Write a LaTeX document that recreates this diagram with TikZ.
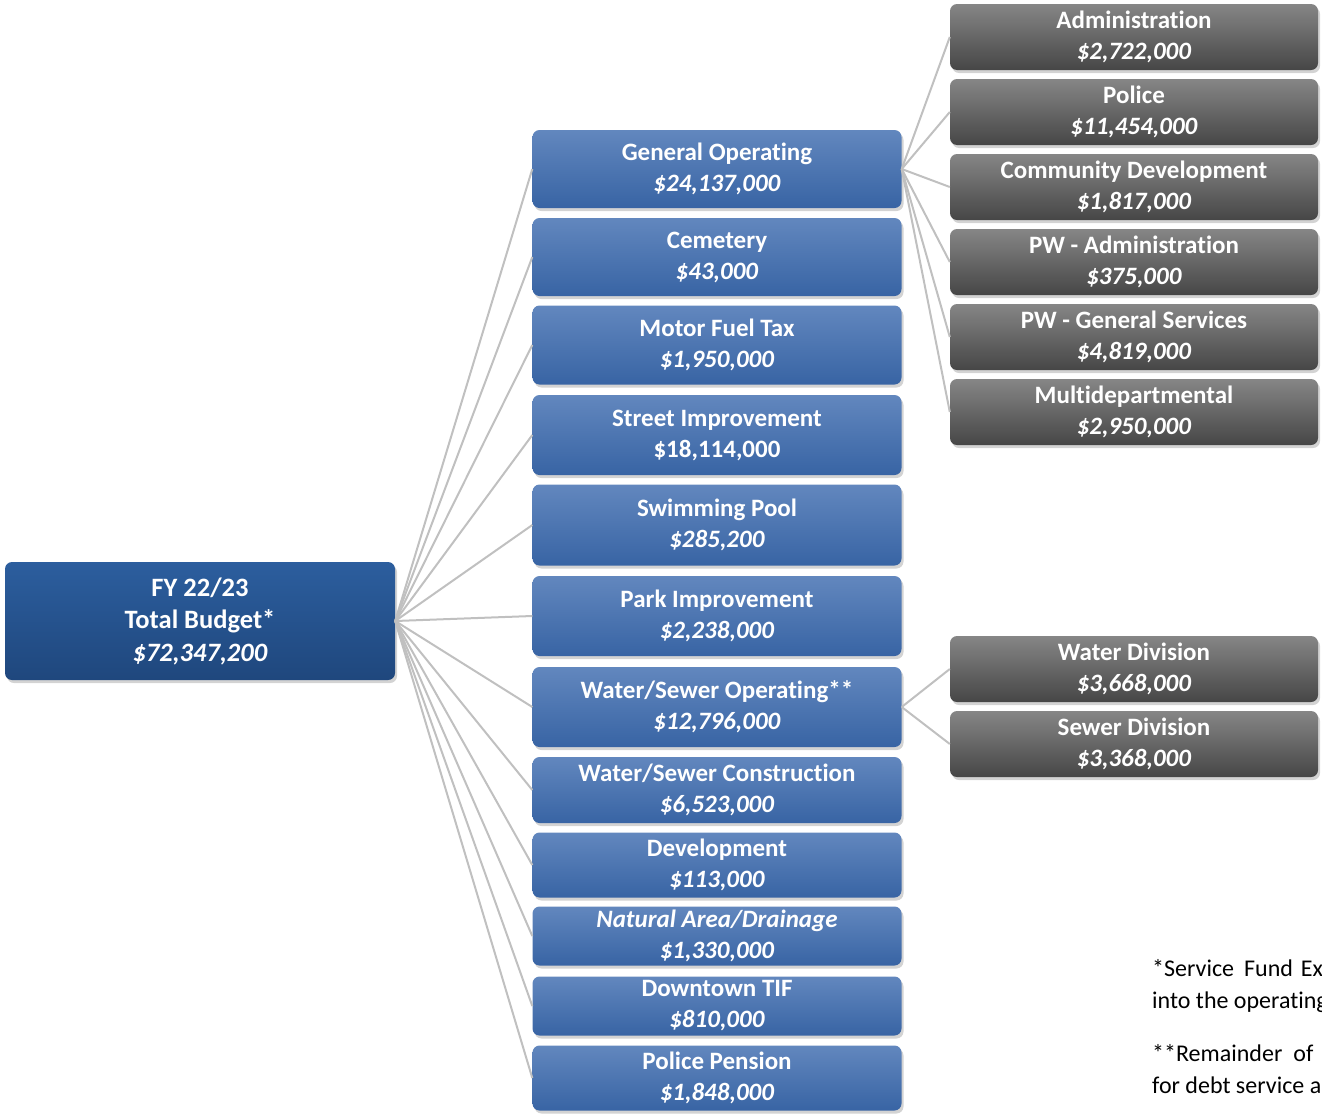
\documentclass[tikz,border=0pt]{standalone}
\usepackage{fontspec}
\setmainfont{Carlito}[Ligatures={NoCommon,NoContextual},Contextuals=NoAlternate,RawFeature={-liga;-clig}]
\usetikzlibrary{shadows}
\definecolor{fundtop}{RGB}{98,135,190}
\definecolor{fundbot}{RGB}{56,100,164}
\definecolor{roottop}{RGB}{44,94,158}
\definecolor{rootbot}{RGB}{31,71,125}
\definecolor{depttop}{RGB}{134,134,134}
\definecolor{deptbot}{RGB}{70,70,70}
\definecolor{linkgray}{RGB}{192,192,192}
\begin{document}
\begin{tikzpicture}[x=1pt,y=-1pt,
  fund node/.style={rounded corners=7pt,top color=fundtop,bottom color=fundbot,text=white,
    font=\bfseries\fontsize{25}{31}\selectfont,align=center,minimum width=369pt,
    execute at begin node={\rule{0pt}{23pt}},
    drop shadow={opacity=0.35,shadow xshift=2pt,shadow yshift=-3pt}},
  root node/.style={fund node,top color=roottop,bottom color=rootbot,minimum width=390pt,
    minimum height=118pt,font=\bfseries\fontsize{26.5}{32.5}\selectfont},
  dept node/.style={fund node,top color=depttop,bottom color=deptbot,minimum width=368pt,minimum height=66pt},
  note/.style={anchor=base west,inner sep=0pt,font=\fontsize{24}{32}\selectfont}]

  \useasboundingbox (0,0) rectangle (1322,1114);

  \node[root node] (0) at (200,621){FY 22/23\\Total Budget*\\\textit{\$72,347,200}};

  \node[fund node,minimum height=78pt] (1) at (717,169){General Operating\\\textit{\$24,137,000}};
  \node[fund node,minimum height=78pt] (2) at (717,257){Cemetery\\\textit{\$43,000}};
  \node[fund node,minimum height=79pt] (3) at (717,345){Motor Fuel Tax\\\textit{\$1,950,000}};
  \node[fund node,minimum height=80pt] (4) at (717,435){Street Improvement\\\$18,114,000};
  \node[fund node,minimum height=81pt] (5) at (717,525){Swimming Pool\\\textit{\$285,200}};
  \node[fund node,minimum height=80pt] (6) at (717,616){Park Improvement\\\textit{\$2,238,000}};
  \node[fund node,minimum height=80pt] (7) at (717,707){Water/Sewer Operating**\\\textit{\$12,796,000}};
  \node[fund node,minimum height=66pt] (8) at (717,790){Water/Sewer Construction\\\textit{\$6,523,000}};
  \node[fund node,minimum height=65pt] (9) at (717,865){Development\\\textit{\$113,000}};
  \node[fund node,minimum height=59pt] (10) at (717,936){\textit{Natural Area/Drainage}\\\textit{\$1,330,000}};
  \node[fund node,minimum height=59pt] (11) at (717,1006){Downtown TIF\\\textit{\$810,000}};
  \node[fund node,minimum height=65pt] (12) at (717,1078){Police Pension\\\textit{\$1,848,000}};

  \node[dept node] (13) at (1134,37){Administration\\\textit{\$2,722,000}};
  \node[dept node] (14) at (1134,112){Police\\\textit{\$11,454,000}};
  \node[dept node] (15) at (1134,187){Community Development\\\textit{\$1,817,000}};
  \node[dept node] (16) at (1134,262){PW - Administration\\\textit{\$375,000}};
  \node[dept node] (17) at (1134,337){PW - General Services\\\textit{\$4,819,000}};
  \node[dept node] (18) at (1134,412){Multidepartmental\\\textit{\$2,950,000}};
  \node[dept node] (19) at (1134,669){Water Division\\\textit{\$3,668,000}};
  \node[dept node] (20) at (1134,744){Sewer Division\\\textit{\$3,368,000}};

  \path[draw=linkgray,line width=2pt]
   (0.east) edge (1.west)
   (0.east) edge (2.west)
   (0.east) edge (3.west)
   (0.east) edge (4.west)
   (0.east) edge (5.west)
   (0.east) edge (6.west)
   (0.east) edge (7.west)
   (0.east) edge (8.west)
   (0.east) edge (9.west)
   (0.east) edge (10.west)
   (0.east) edge (11.west)
   (0.east) edge (12.west)
   (1.east) edge (13.west)
   (1.east) edge (14.west)
   (1.east) edge (15.west)
   (1.east) edge (16.west)
   (1.east) edge (17.west)
   (1.east) edge (18.west)
   (7.east) edge (19.west)
   (7.east) edge (20.west);

  \node[note] (21) at (1152,976){*Service\hspace{10pt}Fund\hspace{8pt}Ex};
  \node[note] (22) at (1152,1008){into the operating};
  \node[note] (23) at (1152,1061){**Remainder\hspace{11pt}of};
  \node[note] (24) at (1152,1093){for debt service a};
\end{tikzpicture}
\end{document}
